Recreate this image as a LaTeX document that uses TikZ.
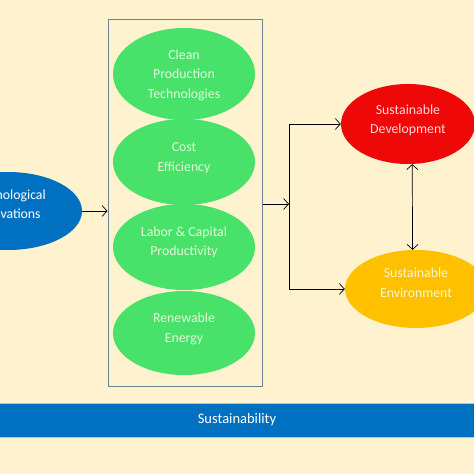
\documentclass[tikz,border=0pt]{standalone}
\usepackage{fontspec}
\setmainfont{Carlito}
\usetikzlibrary{shapes.geometric,arrows.meta}
\definecolor{cream}{RGB}{255,242,206}
\definecolor{ppblue}{RGB}{0,112,192}
\definecolor{ppgreen}{RGB}{72,226,106}
\definecolor{ppred}{RGB}{238,8,8}
\definecolor{pporange}{RGB}{255,192,0}
\definecolor{panelline}{RGB}{110,130,150}
\definecolor{greentext}{RGB}{226,248,214}
\definecolor{redtext}{RGB}{255,215,215}
\definecolor{orangetext}{RGB}{255,246,205}
\definecolor{bandline}{RGB}{160,205,235}

\begin{document}
\begin{tikzpicture}[x=1pt, y=1pt,
oval/.style={ellipse, inner sep=0pt, align=center, font=\fontsize{13.8}{19.5}\selectfont},
driver/.style={oval, fill=ppblue, text=white, minimum width=148pt, minimum height=78pt},
factor/.style={oval, fill=ppgreen, text=greentext, minimum width=142pt},
develop/.style={oval, fill=ppred, text=redtext, minimum width=134pt, minimum height=80pt},
environ/.style={oval, fill=pporange, text=orangetext, minimum width=142pt, minimum height=78pt},
panel/.style={rectangle, draw=panelline, line width=1pt, minimum width=154pt, minimum height=367pt},
band/.style={rectangle, fill=ppblue, draw=bandline, line width=0.8pt, text=white, minimum width=480pt, minimum height=34pt, font=\fontsize{14.5}{16}\selectfont},
arr/.style={-{Straight Barb[length=5pt, width=11pt]}, line width=0.7pt},
arr2/.style={{Straight Barb[length=5pt, width=11pt]}-{Straight Barb[length=5pt, width=11pt]}, line width=0.7pt},
]
\clip (0,0) rectangle (474,474);
\fill[cream] (0,0) rectangle (474,474);
\node[driver, text depth=14pt] (innov) at (8,263) {Technological\\Innovations};
\node[panel] (box) at (185,270.5) {};
\node[factor, minimum height=92pt, text depth=-3pt] (clean) at (184,400) {Clean\\Production\\Technologies};
\node[factor, minimum height=86pt, text depth=10pt] (cost) at (184,312) {Cost\\Efficiency};
\node[factor, minimum height=86pt, text depth=12pt] (labor) at (184,227) {Labor \& Capital\\Productivity};
\node[factor, minimum height=84pt, text depth=11pt] (energy) at (184,141) {Renewable\\Energy};
\node[develop, text depth=10pt] (dev) at (408,350) {Sustainable\\Development};
\node[environ, text depth=13pt] (env) at (416,185) {Sustainable\\Environment};
\node[band] (sust) at (237,54) {Sustainability};
\coordinate (split) at (289,270);
\draw[arr] (innov.east) -- (innov.east -| box.west);
\draw[arr] (box.east |- split) -- (split);
\draw[arr] (split) |- (dev);
\draw[arr] (split) |- (env);
\draw[arr2] (dev.-84) -- (env.95);
\end{tikzpicture}
\end{document}
